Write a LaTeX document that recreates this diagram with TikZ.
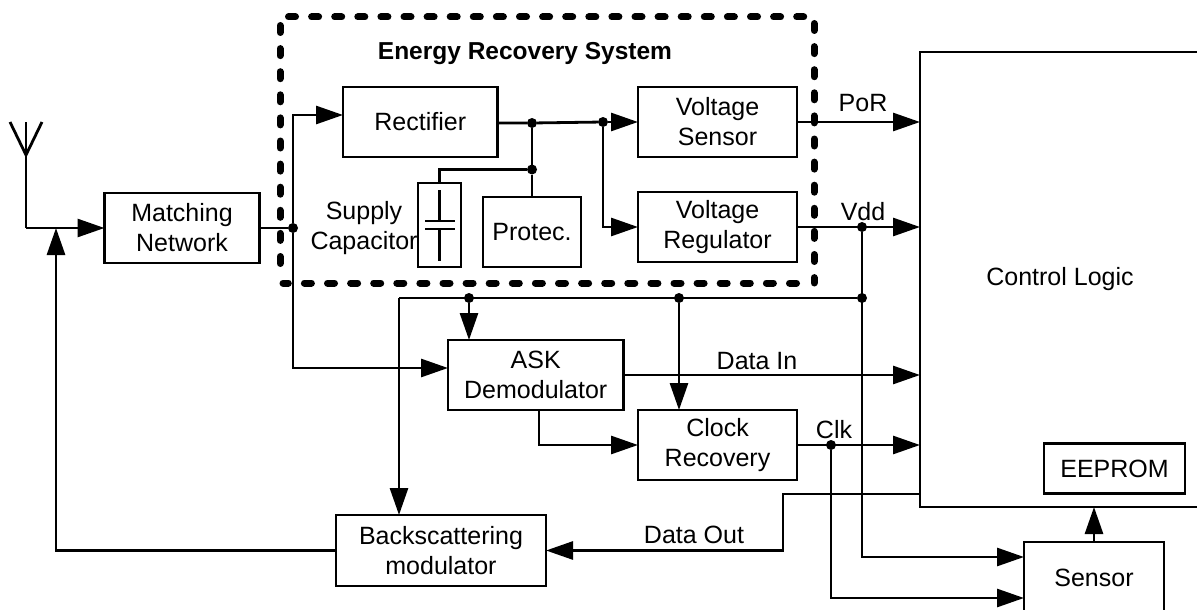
\documentclass[tikz,border=0pt]{standalone}
\usepackage{fontspec}
\setmainfont{Liberation Sans}
\usetikzlibrary{arrows.meta,calc}
\tikzset{
  boxn/.style={draw=black,line width=2.8pt,outer sep=0pt,inner sep=0pt,align=center,font=\fontsize{25}{30}\selectfont},
  lab/.style={inner sep=0pt,align=center,font=\fontsize{25}{30}\selectfont},
  wire/.style={line width=2.8pt,draw=black,line join=miter},
  arr/.style={wire,-{Triangle[length=27pt,width=18pt]}},
  dot/.style={circle,fill=black,minimum size=10pt,inner sep=0pt,outer sep=0pt},
  dashside/.style={draw=black,line width=7pt,line cap=round,dash pattern=on 7pt off 16.1pt},
}
\begin{document}
\begin{tikzpicture}[x=1pt,y=-1pt]
\useasboundingbox (0,0) rectangle (1197,610);
\clip (0,0) rectangle (1197,610);
% dashed enclosure, one stroke per side
\coordinate (tl) at (288.5,17);
\coordinate (tr) at (805,17);
\coordinate (rt) at (814,23.5);
\coordinate (rb) at (814,283);
\coordinate (br) at (796.5,283);
\coordinate (bl) at (283,283);
\coordinate (lb) at (280,265);
\coordinate (lt) at (280,25.5);
\draw[dashside] (tl) -- (tr);
\draw[dashside] (rt) -- (rb);
\draw[dashside] (br) -- (bl);
\draw[dashside] (lt) -- (lb);
\node[lab,font=\fontsize{24.5}{30}\selectfont\bfseries] (ers) at (525,54) {Energy Recovery System};
% boxes
\node[boxn,minimum width=155pt,minimum height=70pt] (match) at (182,228) {Matching\\Network};
\node[boxn,minimum width=154.5pt,minimum height=70pt] (rect) at (420.25,122) {Rectifier};
\node[boxn,minimum width=43pt,minimum height=84pt] (cap) at (439.5,225) {};
\node[boxn,minimum width=98pt,minimum height=70pt] (prot) at (532,232) {Protec.};
\node[boxn,minimum width=159pt,minimum height=70pt] (vs) at (717.5,122) {Voltage\\Sensor};
\node[boxn,minimum width=159pt,minimum height=70pt] (vr) at (717.5,227) {Voltage\\Regulator};
\node[boxn,minimum width=175.5pt,minimum height=70pt] (ask) at (535.75,375) {ASK\\Demodulator};
\node[boxn,minimum width=159pt,minimum height=70pt] (clk) at (717.5,445) {Clock\\Recovery};
\node[boxn,minimum width=210pt,minimum height=71pt] (back) at (441,550.5) {Backscattering\\modulator};
\node[boxn,minimum width=141pt,minimum height=50pt] (eep) at (1114.5,468.5) {EEPROM};
\node[boxn,minimum width=140pt,minimum height=72pt] (sens) at (1094,578) {Sensor};
% control logic, open on the right edge
\coordinate (ctlA) at (1197,52);
\coordinate (ctlB) at (920,52);
\coordinate (ctlC) at (920,507);
\coordinate (ctlD) at (1197,507);
\draw[wire] (ctlA) -- (ctlB) -- (ctlC) -- (ctlD);
\node[lab] (ctl) at (1060,279) {Control Logic};
% antenna
\coordinate (antTop) at (26,122);
\coordinate (antFoot) at (26,155);
\coordinate (antL) at (10,122);
\coordinate (antR) at (42,122);
\coordinate (antJ) at (26,228);
\draw[wire] (antL) -- (antFoot) -- (antR);
\draw[wire] (antTop) -- (antJ);
\draw[arr] (antJ) -- (match.west);
% back to antenna
\coordinate (fbT) at (56,228);
\draw[arr] (back.west) -| (fbT);
% matching to rectifier and ASK
\node[dot] (d1) at (293,228) {};
\draw[wire] (match.east) -- (d1);
\coordinate (up) at (293,115);
\coordinate (rectIn) at (rect.west |- up);
\draw[arr] (d1) -- (up) -- (rectIn);
\coordinate (dn) at (293,368);
\coordinate (askIn) at (ask.west |- dn);
\draw[arr] (d1) -- (dn) -- (askIn);
% rectifier output
\node[dot] (d2) at (532,123) {};
\node[dot] (d3) at (603,122) {};
\node[dot] (d4) at (532,169.5) {};
\draw[wire] (rect.east |- d2) -- (d2) -- (d3);
\draw[arr] (d3) -- (vs.west);
\coordinate (vrIn) at (603,227);
\draw[arr] (d3) -- (vrIn) -- (vr.west);
\draw[wire] (d2) -- (d4) -- (d4 |- prot.north);
\coordinate (capTurn) at (439.5,169.5);
\draw[wire] (d4) -- (capTurn) -- (cap.north);
% capacitor symbol
\coordinate (p1a) at (425,221);
\coordinate (p1b) at (455,221);
\coordinate (p2a) at (425,229);
\coordinate (p2b) at (455,229);
\coordinate (capT) at (439.5,190);
\coordinate (capM1) at (439.5,221);
\coordinate (capM2) at (439.5,229);
\coordinate (capE) at (439.5,261);
\draw[wire,line width=2.4pt] (p1a) -- (p1b) (p2a) -- (p2b) (capT) -- (capM1) (capM2) -- (capE);
\node[lab] (sup) at (364,228) {Supply\\Capacitor};
% outputs to control
\draw[arr] (vs.east) -- (vs.east -| ctlB);
\node[lab] (por) at (863,103) {PoR};
\draw[arr] (vr.east) -- (vr.east -| ctlB);
\node[lab] (vdd) at (863,212) {Vdd};
\node[dot] (d5) at (862,227) {};
\node[dot] (d6) at (862,298) {};
\coordinate (vddS) at (862,557);
\coordinate (vddE) at (sens.west |- vddS);
\draw[arr] (d5) -- (vddS) -- (vddE);
% supply bus
\coordinate (busL) at (399,298);
\node[dot] (d7) at (469,298) {};
\node[dot] (d8) at (679,298) {};
\draw[wire] (busL) -- (d6);
\draw[arr] (busL) -- (busL |- back.north);
\draw[arr] (d7) -- (d7 |- ask.north);
\draw[arr] (d8) -- (d8 |- clk.north);
% data
\draw[arr] (ask.east) -- (ask.east -| ctlB);
\node[lab] (din) at (757,361) {Data In};
\coordinate (askOut) at (539,445);
\draw[arr] (askOut |- ask.south) -- (askOut) -- (clk.west);
\draw[arr] (clk.east) -- (clk.east -| ctlB);
\node[lab] (clab) at (834,430) {Clk};
\node[dot] (d9) at (831,445) {};
\coordinate (clkS) at (831,598);
\draw[arr] (d9) -- (clkS) -- (clkS -| sens.west);
\coordinate (doA) at (920,494);
\coordinate (doB) at (783,494);
\coordinate (doC) at (783,550.5);
\draw[arr] (doA) -- (doB) -- (doC) -- (back.east);
\node[lab] (dout) at (694,535) {Data Out};
\draw[arr] (sens.north) -- (sens.north |- ctlC);
\end{tikzpicture}
\end{document}
